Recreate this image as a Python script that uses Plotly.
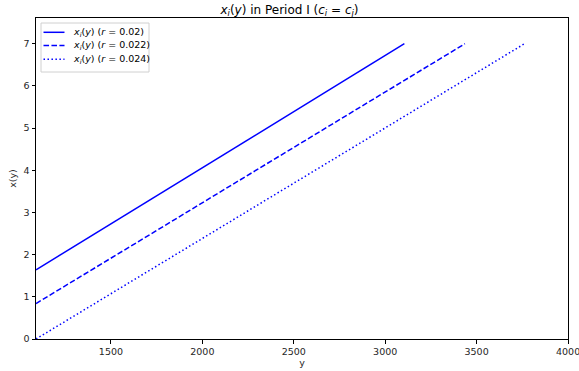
import plotly.graph_objects as go

# Income levels (start and end of each curve) and the corresponding x_i(y)
y_r020 = [1090, 3105]
x_r020 = [1.64, 7.0]

y_r022 = [1090, 3436]
x_r022 = [0.84, 7.0]

y_r024 = [1090, 3762]
x_r024 = [0.0, 7.0]

r_labels = ["0.02", "0.022", "0.024"]
x_ticks = [1500, 2000, 2500, 3000, 3500, 4000]
y_ticks = [0, 1, 2, 3, 4, 5, 6, 7]

FONT = "DejaVu Sans"
BLUE = "#0000ff"
W, H = 579, 371
ML, MR, MT, MB = 36, 11, 18, 32
PW, PH = W - ML - MR, H - MT - MB

DASHES = ["solid", "5.55px,2.4px", "1.5px,2.475px"]


def px_to_paper(px, py):
    return (px - ML) / PW, (H - MB - py) / PH


fig = go.Figure()
series = [(y_r020, x_r020), (y_r022, x_r022), (y_r024, x_r024)]
for (xs, ys), dash, r in zip(series, DASHES, r_labels):
    fig.add_trace(go.Scatter(
        x=xs, y=ys, mode="lines", showlegend=False,
        line=dict(color=BLUE, width=1.5, dash=dash),
        name=f"x_i(y) (r = {r})",
    ))

shapes = []
annotations = []

# legend frame
x0, y0 = px_to_paper(41, 72)
x1, y1 = px_to_paper(149, 23)
shapes.append(dict(type="rect", xref="paper", yref="paper", x0=x0, y0=y0, x1=x1, y1=y1,
                   line=dict(color="#d0d0d0", width=1), fillcolor="rgba(255,255,255,0.8)",
                   layer="above"))
row_y = [32.3, 45.5, 59.3]
for py, dash, r in zip(row_y, DASHES, r_labels):
    lx0, ly = px_to_paper(43.5, py)
    lx1, _ = px_to_paper(64.5, py)
    shapes.append(dict(type="line", xref="paper", yref="paper", x0=lx0, x1=lx1, y0=ly, y1=ly,
                       line=dict(color=BLUE, width=1.5, dash=dash), layer="above"))
    tx, _ = px_to_paper(71, py)
    annotations.append(dict(
        xref="paper", yref="paper", x=tx, y=ly, xanchor="left", yanchor="middle",
        showarrow=False, text=f"<i>x<sub>i</sub></i>(<i>y</i>) (<i>r</i> = {r})",
        font=dict(family=FONT, size=9.5, color="#000000"),
    ))

# last x tick label sits on the right edge of the figure
annotations.append(dict(
    x=x_ticks[-1], xref="x", y=0, yref="paper", yanchor="top", yshift=-5,
    showarrow=False, text=str(x_ticks[-1]), font=dict(family=FONT, size=9.5, color="#262626"),
))

fig.update_layout(
    width=W, height=H,
    margin=dict(l=ML, r=MR, t=MT, b=MB, autoexpand=False),
    paper_bgcolor="white", plot_bgcolor="white",
    font=dict(family=FONT, size=9.5, color="#262626"),
    title=dict(
        text="<i>x<sub>i</sub></i>(<i>y</i>) in Period I (<i>c<sub>i</sub></i> = <i>c<sub>j</sub></i>)",
        x=0.5, xanchor="center", y=0.985, yanchor="top",
        font=dict(family=FONT, size=12, color="#000000"),
    ),
    showlegend=False,
    shapes=shapes,
    annotations=annotations,
)
fig.update_xaxes(
    range=[1090, 4000], tickvals=x_ticks,
    ticktext=[str(v) for v in x_ticks[:-1]] + [""],
    ticks="outside", ticklen=3.5,
    tickcolor="#000", showline=True, linecolor="#000", linewidth=1,
    mirror=True, showgrid=False, zeroline=False, automargin=False,
    title=dict(text="y", font=dict(size=9.5), standoff=3),
)
fig.update_yaxes(
    range=[0, 7.61], tickvals=y_ticks, ticks="outside", ticklen=3.5,
    tickcolor="#000", showline=True, linecolor="#000", linewidth=1,
    mirror=True, showgrid=False, zeroline=False, automargin=False,
    title=dict(text="x(y)", font=dict(size=9.5), standoff=5),
)

fig.write_html("out.html")
